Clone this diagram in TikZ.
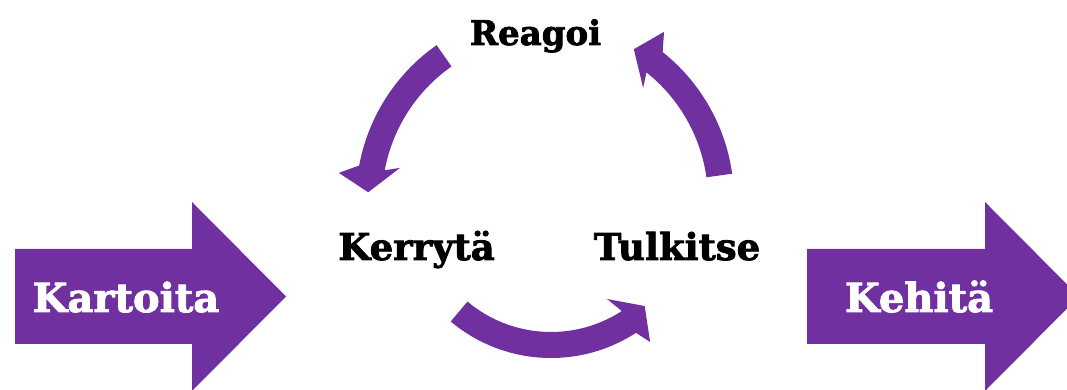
\documentclass[tikz,border=0pt]{standalone}
\usepackage{fontspec}
\setmainfont{DejaVu Serif}
\newfontfamily\heavyfont{DejaVu Serif Bold}[FakeBold=2.2]
\begin{document}
\begin{tikzpicture}[x=1pt,y=1pt]
\definecolor{purp}{HTML}{7030A0}
\tikzset{
  arr/.style={fill=purp},
  lbl/.style={anchor=base, inner sep=0pt},
}
\useasboundingbox (0,0) rectangle (1067,390);
\clip (0,0) rectangle (1067,390);
% big side arrows
\fill[arr] (15,141) -- (192,141) -- (192,188) -- (286,93.5) -- (192,-1) -- (192,46) -- (15,46) -- cycle;
\fill[arr] (807,141) -- (985,141) -- (985,188) -- (1079,93.5) -- (985,-1) -- (985,46) -- (807,46) -- cycle;
% curved arrows
\fill[arr, shift={(545,190)}] (125:163) -- (125:189) arc[start angle=125,end angle=169.5,radius=189]
  -- (172.5:208) -- (177.5:177) -- (167.5:148.5) -- (169.5:163)
  arc[start angle=169.5,end angle=125,radius=163] -- cycle;
\fill[arr, shift={(545,190)}] (8:163) -- (8:189) arc[start angle=8,end angle=51.5,radius=189]
  -- (54.7:206) -- (59.5:175) -- (48.8:149) -- (51.5:163)
  arc[start angle=51.5,end angle=8,radius=163] -- cycle;
\fill[arr, shift={(551,188)}] (230:130) -- (230:156) arc[start angle=230,end angle=303,radius=156]
  -- (305.3:171.5) -- (312:140) -- (300:112) -- (303:130)
  arc[start angle=303,end angle=230,radius=130] -- cycle;
% labels
\node[lbl, font=\fontsize{40}{40}\heavyfont, text=white] (kartoita) at (126,78) {Kartoita};
\node[lbl, font=\fontsize{40}{40}\heavyfont, text=white] (kehita) at (919,78) {Kehitä};
\node[lbl, font=\fontsize{37}{37}\heavyfont] (kerryta) at (416.5,130) {Kerrytä};
\node[lbl, font=\fontsize{37}{37}\heavyfont] (tulkitse) at (677,130) {Tulkitse};
\node[lbl, font=\fontsize{34}{34}\heavyfont] (reagoi) at (535.5,345) {Reagoi};
\end{tikzpicture}
\end{document}
